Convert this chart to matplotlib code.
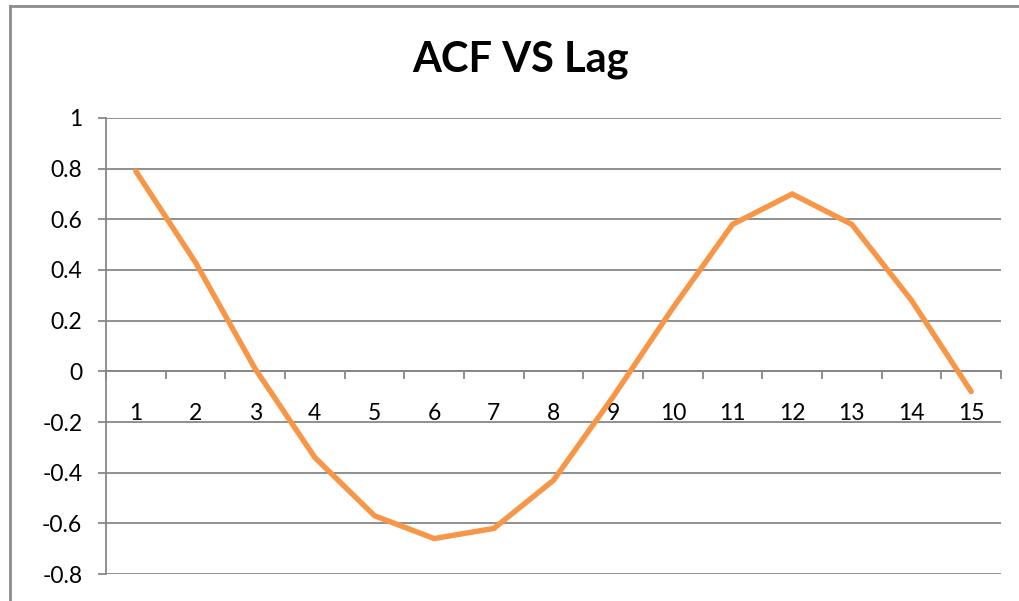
import matplotlib.pyplot as plt
from matplotlib.lines import Line2D
import numpy as np

plt.rcParams['font.family'] = ['Lato', 'DejaVu Sans']

# Лаги и значения ACF
lags = list(range(1, 16))
acf = [0.79, 0.43, 0.01, -0.34, -0.57, -0.66, -0.62, -0.43,
       -0.10, 0.25, 0.58, 0.70, 0.58, 0.28, -0.08]
y_ticks = [-0.8, -0.6, -0.4, -0.2, 0, 0.2, 0.4, 0.6, 0.8, 1]
y_labels = ['-0.8', '-0.6', '-0.4', '-0.2', '0', '0.2', '0.4', '0.6', '0.8', '1']

grid_col = '#878787'
line_col = '#F79646'

fig = plt.figure(figsize=(10.2, 6.01), dpi=100)
ax = fig.add_axes([0.1039, 0.0449, 0.8775, 0.7588])

ax.plot(lags, acf, color=line_col, linewidth=3.9, solid_capstyle='round',
        solid_joinstyle='miter', zorder=3)

ax.set_xlim(0.5, 15.5)
ax.set_ylim(-0.8, 1.0)

# сетка по Y
ax.set_yticks(y_ticks)
ax.set_yticklabels(y_labels)
for v in y_ticks:
    ax.axhline(v, color=grid_col, linewidth=1.3, zorder=1)

# ось X проходит через 0
ax.spines['bottom'].set_position(('data', 0))
ax.spines['bottom'].set_color(grid_col)
ax.spines['bottom'].set_linewidth(1.3)
ax.spines['top'].set_visible(False)
ax.spines['right'].set_visible(False)
ax.spines['left'].set_color(grid_col)
ax.spines['left'].set_linewidth(1.3)

ax.set_xticks(lags)
ax.set_xticklabels([str(l) for l in lags])
ax.set_xticks(np.arange(0.5, 16, 1), minor=True)
ax.tick_params(axis='x', which='major', length=0, pad=23, labelsize=16.5)
ax.tick_params(axis='x', which='minor', length=6, width=1.3, color=grid_col,
               direction='out')
ax.tick_params(axis='y', length=6, width=1.3, color=grid_col, pad=11,
               labelsize=16.5)

fig.text(0.51, 0.9, 'ACF VS Lag', ha='center', va='center',
         fontsize=30, fontweight='bold')

# рамка области диаграммы
fig.add_artist(Line2D([0.0098, 0.0098], [0, 0.99], transform=fig.transFigure,
                      color='#8c8c8c', linewidth=2))
fig.add_artist(Line2D([0.0098, 1.0], [0.99, 0.99], transform=fig.transFigure,
                      color='#8c8c8c', linewidth=2))

plt.savefig('out.png', dpi=100)
